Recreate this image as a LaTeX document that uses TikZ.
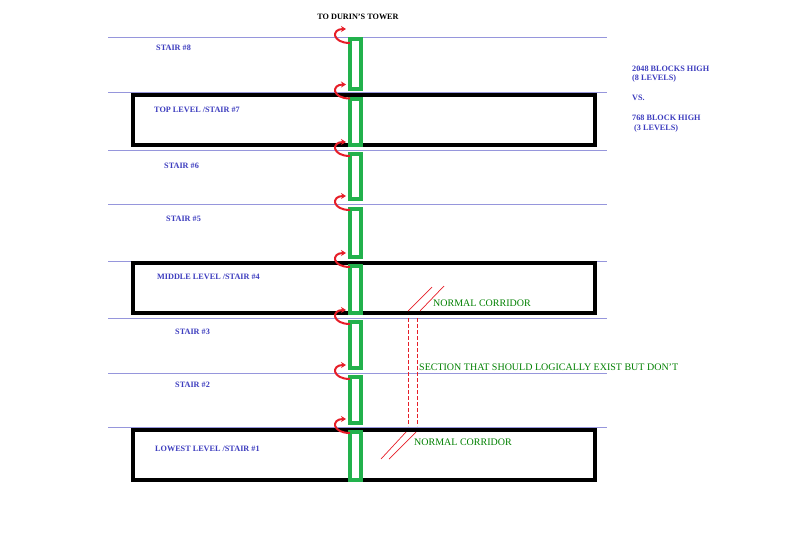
\documentclass[tikz,border=0pt]{standalone}
\usepackage{fontspec}
\setmainfont{Liberation Serif}
\usetikzlibrary{arrows.meta}
\definecolor{floorBlue}{RGB}{150,150,220}
\definecolor{labelBlue}{RGB}{60,60,190}
\definecolor{stairGreen}{RGB}{34,177,76}
\definecolor{curlRed}{RGB}{230,30,40}
\definecolor{noteGreen}{RGB}{0,128,0}
\tikzset{
    floorline/.style={draw=floorBlue, line width=1pt},
    levelbox/.style={draw=black, line width=4pt},
    stairseg/.style={draw=stairGreen, line width=4pt},
    curlarrow/.style={-{Stealth[length=5pt,width=6pt]}, draw=curlRed, line width=2pt},
    gapline/.style={draw=curlRed, dash pattern=on 4pt off 2pt, line width=0.8pt},
    cutline/.style={draw=curlRed, line width=0.7pt},
    floorlabel/.style={font=\fontsize{8.2}{9}\selectfont\bfseries, text=labelBlue, inner sep=0pt, anchor=west},
    towerlabel/.style={font=\fontsize{8.2}{9}\selectfont\bfseries, text=black, inner sep=0pt},
    notetext/.style={font=\fontsize{10}{12}\selectfont, text=noteGreen, inner sep=0pt, anchor=west}
}

\begin{document}
\begin{tikzpicture}[x=1pt,y=-1pt]
    \useasboundingbox (0,0) rectangle (800,558);
    \foreach \y in {37,92.5,150,204,261,318,373,427} {
        \draw[floorline] (108,\y) -- (607,\y);
    }
    \foreach \t/\b in {95/145,263/313,430/480} {
        \draw[levelbox] (133,\t) rectangle (595,\b);
    }
    \foreach \t/\b in {37/91,97/147,152/201,207/259,264/315,320/370,375/425,430/482} {
        \draw[stairseg] (350,\t+2) rectangle (361,\b-2);
    }
    \foreach \y in {37,92.5,150,204,261,318,373,427} {
        \draw[curlarrow] (350,\y+6) .. controls (332,\y+6) and (331,\y-8) .. (346,\y-8);
    }

    \node[towerlabel] (tower) at (358,17) {TO DURIN'S TOWER};

    \node[floorlabel] (stair8) at (156,48) {STAIR \#8};
    \node[floorlabel] (stair7) at (154,110) {TOP LEVEL /STAIR \#7};
    \node[floorlabel] (stair6) at (164,166) {STAIR \#6};
    \node[floorlabel] (stair5) at (166,219) {STAIR \#5};
    \node[floorlabel] (stair4) at (157,277) {MIDDLE LEVEL /STAIR \#4};
    \node[floorlabel] (stair3) at (175,332) {STAIR \#3};
    \node[floorlabel] (stair2) at (175,385) {STAIR \#2};
    \node[floorlabel] (stair1) at (155,449) {LOWEST LEVEL /STAIR \#1};

    \node[floorlabel] (high8) at (632,69) {2048 BLOCKS HIGH};
    \node[floorlabel] (lev8) at (632,79) {(8 LEVELS)};
    \node[floorlabel] (vs) at (632,98) {VS.};
    \node[floorlabel] (high3) at (632,118) {768 BLOCK HIGH};
    \node[floorlabel] (lev3) at (634,129) {(3 LEVELS)};

    \draw[gapline] (408,318) -- (408,426);
    \draw[gapline] (417,318) -- (417,426);
    \draw[cutline] (408,311) -- (432,287);
    \draw[cutline] (420,311) -- (444,286);
    \draw[cutline] (381,459) -- (406,432);
    \draw[cutline] (389,459) -- (416,432);

    \node[notetext] (upper) at (433,303) {NORMAL CORRIDOR};
    \node[notetext] (missing) at (419,367) {SECTION THAT SHOULD LOGICALLY EXIST BUT DON'T};
    \node[notetext] (lower) at (414,442) {NORMAL CORRIDOR};
\end{tikzpicture}
\end{document}
